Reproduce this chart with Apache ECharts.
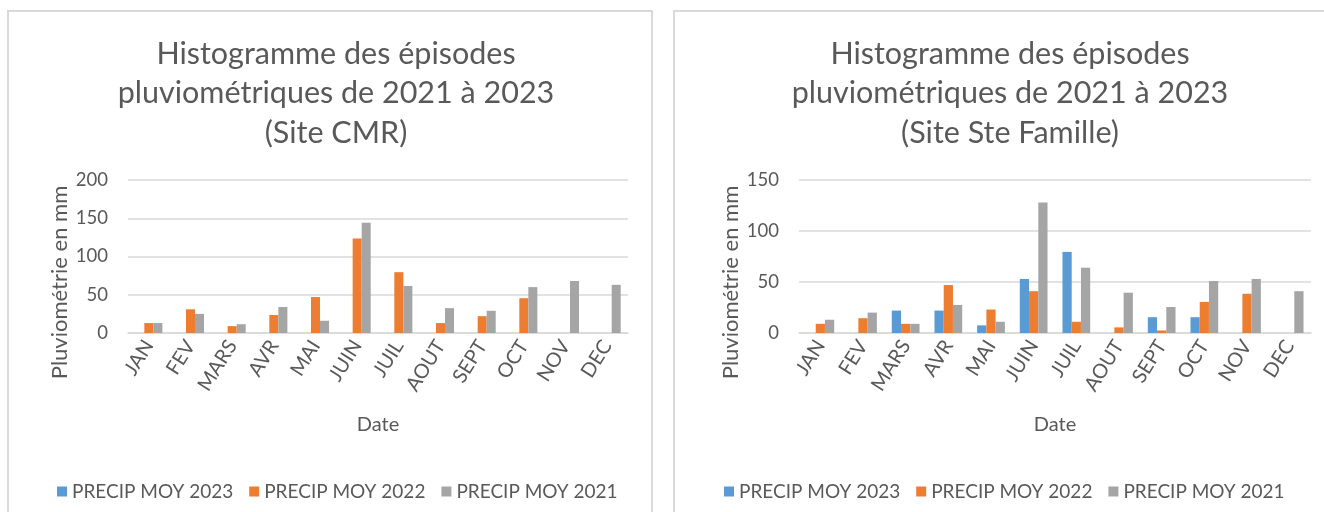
<!DOCTYPE html>
<html>
<head>
<meta charset="utf-8">
<script src="https://cdn.jsdelivr.net/npm/echarts@6/dist/echarts.min.js"></script>
<style>
  html, body { margin:0; padding:0; background:#fff; }
  #graph { width:1324px; height:512px; }
</style>
</head>
<body>
<div id="graph"></div>
<script>
// donnees
var mois = ['JAN','FEV','MARS','AVR','MAI','JUIN','JUIL','AOUT','SEPT','OCT','NOV','DEC'];
var noms = ['PRECIP MOY 2023','PRECIP MOY 2022','PRECIP MOY 2021'];
var couleurs = ['#5B9BD5','#ED7D31','#A5A5A5'];

// site CMR
var cmr2023 = [null,null,null,null,null,null,null,null,null,null,null,null];
var cmr2022 = [13,31,9,23.5,47,123.5,79.5,13,22,45.5,null,null];
var cmr2021 = [13,25,11.5,34,16,144,61.5,32.5,29,60,68,63];
var cmrMax = 200;

// site Ste Famille
var sf2023 = [null,null,22,22,7.5,53,79.5,null,15.5,15.5,null,null];
var sf2022 = [9,14.5,9,47,23,41,11,5.5,2.5,30.5,38.5,null];
var sf2021 = [13,20,9,27.5,11,128,64,39.5,25.5,51,53,41];
var sfMax = 150;
var pas = 50;

var police = 'Lato';
var gris = '#595959';
var trait = '#D9D9D9';

var dom = document.getElementById("graph");
var myChart = echarts.init(dom);

function axeX(idx){
  return {
    type:'category', gridIndex:idx, data:mois,
    axisTick:{show:false},
    axisLine:{lineStyle:{color:trait, width:1.5}},
    axisLabel:{rotate:58, color:gris, fontSize:20, fontFamily:police, margin:9, interval:0},
    name:'Date', nameLocation:'middle', nameGap:82,
    nameTextStyle:{color:gris, fontSize:20, fontFamily:police}
  };
}
function axeY(idx, max){
  return {
    type:'value', gridIndex:idx, min:0, max:max, interval:pas,
    axisLine:{show:false}, axisTick:{show:false},
    splitLine:{lineStyle:{color:trait, width:1.5}},
    axisLabel:{color:gris, fontSize:18.5, fontFamily:police, margin:20},
    // le titre d'axe est decale vers le bas comme dans Excel
    name:'Pluviométrie en mm', nameLocation:'middle', nameRotate:90, nameGap:57,
    nameTextStyle:{color:gris, fontSize:22, fontFamily:police, padding:[0, 52, 0, 0]}
  };
}
function barres(idx, valeurs){
  var out = [];
  for (var i = 0; i < valeurs.length; i++) {
    out.push({
      name:noms[i], type:'bar', xAxisIndex:idx, yAxisIndex:idx,
      data:valeurs[i], barGap:'0%', barCategoryGap:'35%',
      itemStyle:{color:couleurs[i]}
    });
  }
  return out;
}
function legende(left){
  return {
    left:left, top:477, itemWidth:10, itemHeight:10, itemGap:16,
    icon:'rect', data:noms,
    textStyle:{color:gris, fontSize:19, fontFamily:police}
  };
}
function titre(text, cx){
  return {
    text:text, left:cx, top:29, textAlign:'center',
    textStyle:{color:gris, fontSize:30.5, fontWeight:'normal', fontFamily:police, lineHeight:39.5}
  };
}

var option = {
  animation:false,
  color:couleurs,
  title:[
    titre('Histogramme des épisodes\npluviométriques de 2021 à 2023\n(Site CMR)', 331),
    titre('Histogramme des épisodes\npluviométriques de 2021 à 2023\n(Site Ste Famille)', 1005)
  ],
  legend:[legende(52), legende(719)],
  grid:[
    {left:128, right:1324-628, top:180, bottom:512-333},
    {left:799, right:1324-1311, top:180, bottom:512-333}
  ],
  xAxis:[axeX(0), axeX(1)],
  yAxis:[axeY(0, cmrMax), axeY(1, sfMax)],
  series:barres(0, [cmr2023, cmr2022, cmr2021]).concat(barres(1, [sf2023, sf2022, sf2021])),
  graphic:[
    {type:'rect', shape:{x:8, y:11, width:644, height:520}, style:{fill:'none', stroke:trait, lineWidth:2}},
    {type:'rect', shape:{x:674, y:11, width:680, height:520}, style:{fill:'none', stroke:trait, lineWidth:2}}
  ]
};

myChart.setOption(option);
</script>
</body>
</html>
